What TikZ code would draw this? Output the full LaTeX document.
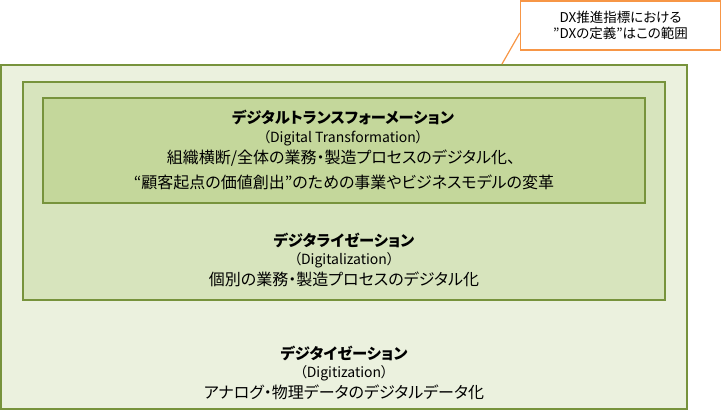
\documentclass[tikz,border=0pt]{standalone}
\usepackage{fontspec}
\setmainfont{Noto Sans CJK JP}[CharacterWidth=AlternateProportional]
\usepackage{xcolor}
\usepackage{tikz}
\usetikzlibrary{positioning}
\definecolor{dxedge}{HTML}{77933C}
\definecolor{dxouter}{HTML}{EBF1DE}
\definecolor{dxmiddle}{HTML}{D7E4BD}
\definecolor{dxinner}{HTML}{C4D79B}
\definecolor{dxorange}{HTML}{F79646}
\begin{document}
\begin{tikzpicture}[
    x = 1pt,
    y = -1pt,
    node distance = 2pt]
    \tikzstyle{tier}=[draw=dxedge,line width=1.3pt]
    \tikzstyle{heading}=[inner sep=0pt,font=\bfseries\fontsize{15.3}{16}\selectfont]
    \tikzstyle{subname}=[inner sep=0pt,font=\fontsize{14}{14}\selectfont]
    \tikzstyle{body}=[inner sep=0pt,font=\fontsize{16}{16}\selectfont]
    \useasboundingbox (0,0) rectangle (723,417);
    % three nested levels
    \filldraw[tier,fill=dxouter] (1,65) rectangle (687,409);
    \filldraw[tier,fill=dxmiddle] (23,82) rectangle (665,300);
    \filldraw[tier,fill=dxinner] (43,98) rectangle (645,203);
    % digital transformation
    \node[heading] (dxtitle) at (343,117) {デジタルトランスフォーメーション};
    \node[subname] (dxname) at (343,138) {（Digital Transformation）};
    \node[body] (dxline1) at (341,158) {組織横断/全体の業務・製造プロセスのデジタル化、};
    \node[body] (dxline2) at (344,182) {“顧客起点の価値創出”のための事業やビジネスモデルの変革};
    % digitalization
    \node[heading] (dltitle) at (344,240) {デジタライゼーション};
    \node[subname] (dlname) at (344,260) {（Digitalization）};
    \node[body] (dlline) at (344,279) {個別の業務・製造プロセスのデジタル化};
    % digitization
    \node[heading] (dgtitle) at (344,353) {デジタイゼーション};
    \node[subname] (dgname) at (344,373) {（Digitization）};
    \node[body] (dgline) at (344,392) {アナログ・物理データのデジタルデータ化};
    % callout
    \node[draw=dxorange,line width=1.5pt,fill=white,minimum width=200pt,
      minimum height=49pt,align=center,font=\fontsize{13.5}{16.5}\selectfont]
      (scope) at (620.5,25.5) {DX推進指標における\\”DXの定義”はこの範囲};
    \coordinate (scopetip) at (502,64);
    \draw[dxorange,line width=1.2pt] (scope.west |- 0,33) -- (scopetip);
\end{tikzpicture}
\end{document}
